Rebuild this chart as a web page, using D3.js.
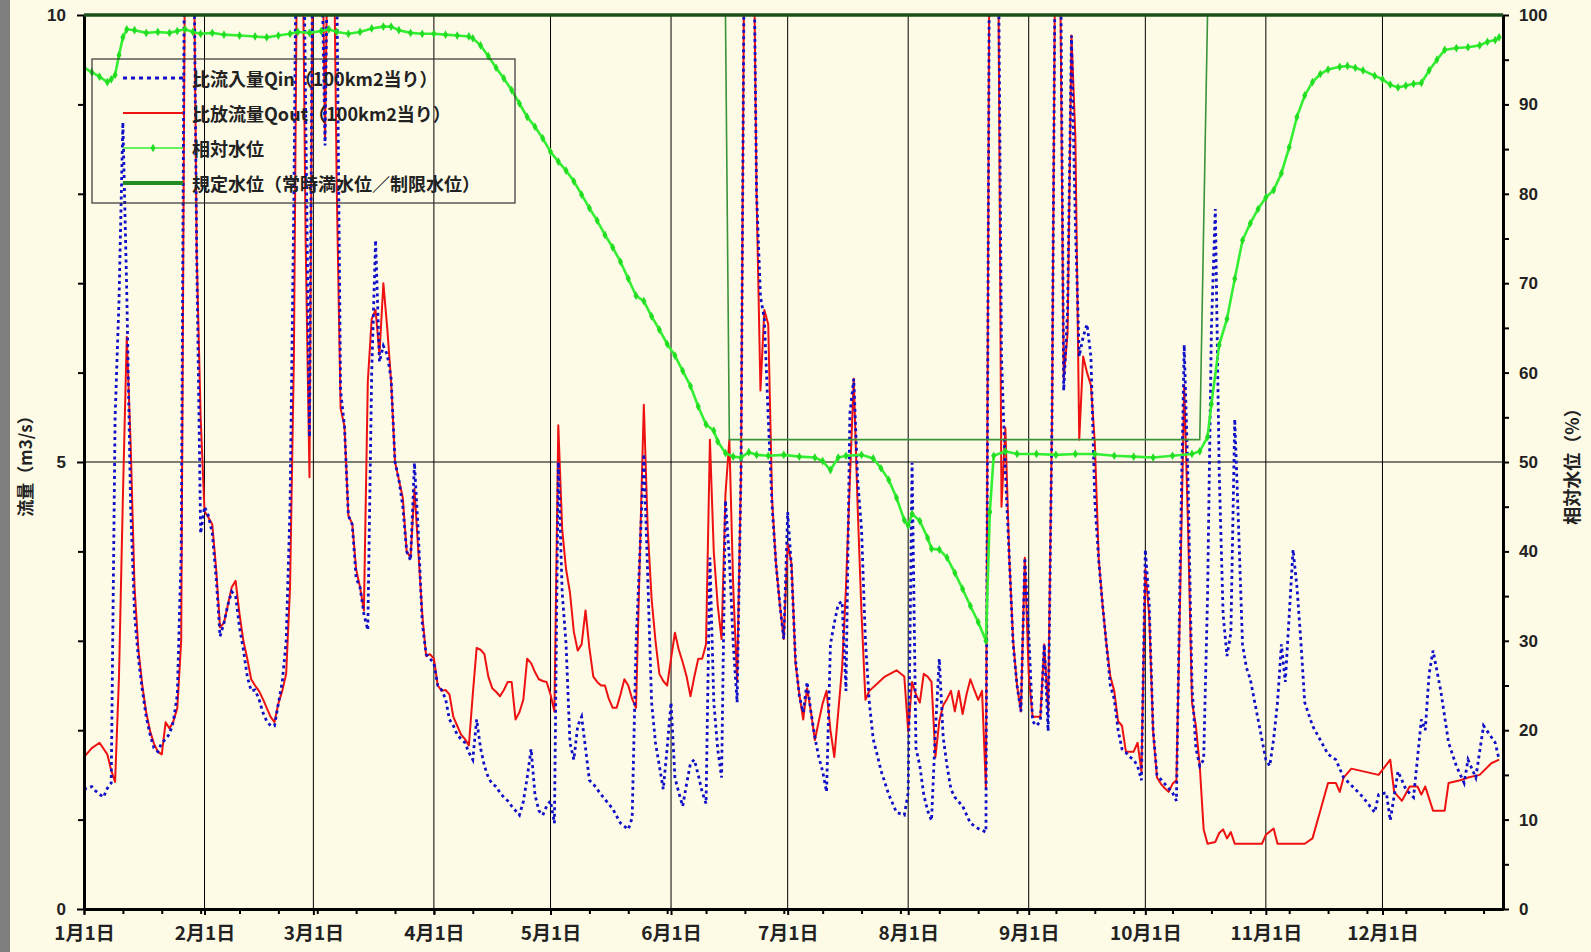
<!DOCTYPE html>
<html>
<head>
<meta charset="utf-8">
<script src="https://cdn.jsdelivr.net/npm/d3@7"></script>
<style>
  body { margin: 0; background: #fdfbe6; }
  #chart svg { display: block; }
</style>
</head>
<body>
<div id="chart"></div>
<script>
// ----------------------------------------------------------
// DATOS (dia del año desde 1月1日, valor)

const qoutData = [
  [0,1.70],[2,1.80],[4,1.86],[6,1.73],[7,1.55],[8,1.42],[9,2.6],[10,4.6],[11,6.4],[12,5.2],[13,3.6],[14,2.9],[15,2.5],[16,2.2],[17,1.99],[18,1.85],[19,1.76],[20,1.73],
  [21,2.09],[22,2.02],[23,2.1],[24,2.25],[25,3.0],[26,11],[27,14],[28,12],[29,7.3],[30,5.5],[31,4.45],[32,4.38],[33,4.3],[34,3.8],[35,3.15],[36,3.2],[37,3.4],[38,3.6],
  [39,3.67],[40,3.3],[41,3.0],[42,2.8],[43,2.57],[44,2.5],[45,2.44],[46,2.35],[47,2.25],[48,2.15],[49,2.09],[50,2.3],[51,2.44],[52,2.63],[53,3.6],[54,6.2],[55,12],[56,12],
  [57,7.5],[58,4.83],[59,12],[60,13],[61,12],[62,8.6],[63,12],[64,12],[65,8.1],[66,5.6],[67,5.4],[68,4.4],[69,4.31],[70,3.8],[71,3.6],[72,3.34],[73,5.9],[74,6.6],[75,6.7],
  [76,6.2],[77,7.0],[78,6.5],[79,5.9],[80,5.0],[81,4.8],[82,4.6],[83,4.0],[84,3.93],[85,4.7],[86,4.0],[87,3.3],[88,2.83],[89,2.85],[90,2.8],[91,2.5],[92,2.44],[93,2.45],
  [94,2.4],[95,2.15],[96,2.05],[97,1.95],[98,1.9],[99,1.83],[100,2.4],[101,2.92],[102,2.9],[103,2.85],[104,2.6],[105,2.47],[106,2.43],[107,2.38],[108,2.45],[109,2.54],
  [110,2.54],[111,2.12],[112,2.2],[113,2.34],[114,2.8],[115,2.75],[116,2.65],[117,2.57],[118,2.55],[119,2.54],[120,2.4],[121,2.21],[122,5.41],[123,4.25],[124,3.8],
  [125,3.54],[126,3.1],[127,2.89],[128,2.96],[129,3.34],[130,2.92],[131,2.6],[132,2.54],[133,2.5],[134,2.5],[135,2.35],[136,2.25],[137,2.25],[138,2.4],[139,2.57],
  [140,2.5],[141,2.35],[142,2.25],[143,4.0],[144,5.64],[145,4.25],[146,3.47],[147,3.0],[148,2.63],[149,2.55],[150,2.5],[151,2.8],[152,3.09],[153,2.9],[154,2.76],
  [155,2.6],[156,2.38],[157,2.6],[158,2.8],[159,2.8],[160,2.96],[161,5.25],[162,3.99],[163,3.4],[164,3.02],[165,4.64],[166,5.25],[167,3.6],[168,2.54],[169,4.89],
  [170,12],[171,13],[172,12],[173,8.0],[174,5.8],[175,6.7],[176,6.54],[177,4.57],[178,3.86],[179,3.4],[180,3.02],[181,4.09],[182,3.86],[183,2.76],[184,2.4],[185,2.12],
  [186,2.47],[187,2.2],[188,1.89],[189,2.1],[190,2.3],[191,2.44],[192,2.0],[193,1.70],[194,2.2],[195,2.7],[196,3.6],[197,4.8],[198,5.93],[199,4.5],[200,3.3],[201,2.34],
  [202,2.44],[204,2.52],[206,2.6],[209,2.67],[211,2.6],[212,1.99],[213,2.54],[214,2.4],[215,2.31],[216,2.63],[217,2.6],[218,2.54],[219,1.70],[220,2.1],[221,2.28],
  [222,2.35],[223,2.44],[224,2.21],[225,2.44],[226,2.18],[227,2.4],[228,2.57],[229,2.45],[230,2.34],[231,2.44],[232,1.34],[233,12],[234,13],[235,12],[236,4.5],
  [237,5.38],[238,3.93],[239,3.0],[240,2.5],[241,2.21],[242,3.93],[243,2.63],[244,2.15],[245,2.15],[246,2.15],[247,2.96],[248,2.2],[249,5.5],[250,12],[251,11],
  [252,5.93],[253,6.44],[254,9.77],[255,8.64],[256,5.25],[257,6.18],[258,6.0],[259,5.86],[260,5.22],[261,3.93],[262,3.4],[263,2.96],[264,2.6],[265,2.44],[266,2.1],
  [267,2.05],[268,1.76],[269,1.76],[270,1.76],[271,1.86],[272,1.54],[273,3.80],[274,3.28],[275,1.99],[276,1.47],[277,1.4],[278,1.35],[279,1.31],[280,1.4],[281,1.44],
  [282,3.6],[283,5.86],[284,4.25],[285,2.31],[286,2.05],[287,1.6],[288,0.89],[289,0.73],[291,0.75],[292,0.85],[293,0.89],[294,0.79],[295,0.86],[296,0.73],[303,0.73],
  [304,0.83],[306,0.9],[307,0.73],[314,0.73],[316,0.79],[318,1.1],[320,1.41],[322,1.41],[323,1.31],[324,1.47],[326,1.57],[333,1.50],[336,1.67],[337,1.31],[339,1.21],
  [341,1.37],[343,1.37],[344,1.28],[345,1.37],[347,1.10],[350,1.10],[351,1.41],[354,1.44],[356,1.47],[359,1.50],[362,1.63],[364,1.67]
]

const qinData = [
  [0,1.34],[2,1.37],[3,1.32],[5,1.25],[6,1.35],[7,1.41],[8,5.5],[9,6.8],[10,8.8],[11,6.9],[12,4.5],[13,3.3],[14,2.8],[15,2.45],[16,2.15],[17,1.95],[18,1.8],[19,1.76],
  [20,1.86],[21,1.9],[22,1.96],[23,2.1],[24,2.4],[25,4.0],[26,12],[27,13],[28,12],[29,7.3],[30,4.2],[31,4.5],[32,4.4],[33,4.2],[34,3.7],[35,3.05],[36,3.2],[37,3.4],
  [38,3.55],[39,3.5],[40,3.15],[41,2.9],[42,2.6],[43,2.44],[44,2.45],[45,2.35],[46,2.2],[47,2.1],[48,2.05],[49,2.05],[50,2.3],[51,2.54],[52,3.0],[53,4.5],[54,8.0],
  [55,13],[56,13],[57,9.0],[58,5.28],[59,12],[60,13],[61,11],[62,8.54],[63,12],[64,13],[65,10.5],[66,5.8],[67,5.4],[68,4.4],[69,4.3],[70,3.7],[71,3.6],[72,3.3],
  [73,3.12],[74,6.0],[75,7.48],[76,6.12],[77,6.3],[78,6.2],[79,5.93],[80,5.0],[81,4.8],[82,4.5],[83,4.0],[84,3.9],[85,4.99],[86,4.2],[87,3.2],[88,2.85],[89,2.8],
  [90,2.75],[91,2.5],[92,2.45],[93,2.35],[94,2.12],[95,2.05],[96,1.95],[97,1.9],[98,1.86],[99,1.75],[100,1.67],[101,2.12],[102,1.8],[103,1.6],[104,1.47],[105,1.4],
  [106,1.37],[107,1.3],[108,1.25],[109,1.21],[110,1.15],[111,1.1],[112,1.05],[113,1.2],[114,1.47],[115,1.79],[116,1.28],[117,1.1],[118,1.05],[119,1.15],[120,1.21],
  [121,0.96],[122,5.0],[123,3.54],[124,2.96],[125,1.86],[126,1.67],[127,2.05],[128,2.15],[129,1.8],[130,1.44],[131,1.4],[133,1.28],[136,1.12],[138,0.96],[140,0.89],
  [141,1.02],[142,2.96],[143,4.0],[144,5.09],[145,3.73],[146,2.31],[147,1.86],[148,1.6],[149,1.34],[150,1.8],[151,2.31],[152,1.47],[153,1.3],[154,1.15],[155,1.4],
  [156,1.63],[157,1.67],[158,1.5],[159,1.31],[160,1.18],[161,3.93],[162,2.31],[163,1.79],[164,1.47],[165,4.57],[166,3.93],[167,2.96],[168,2.31],[169,4.89],[170,12],
  [171,13],[172,12],[173,8.0],[174,6.85],[175,6.6],[176,5.5],[177,4.5],[178,3.86],[179,3.4],[180,3.02],[181,4.44],[182,3.8],[183,2.8],[184,2.38],[185,2.2],[186,2.54],
  [187,2.2],[188,1.92],[189,1.7],[190,1.54],[191,1.31],[192,2.96],[193,3.2],[194,3.41],[195,3.44],[196,2.44],[197,5.54],[198,5.93],[199,4.8],[200,4.25],[201,3.0],
  [202,2.31],[203,1.9],[204,1.73],[205,1.55],[207,1.28],[209,1.08],[211,1.05],[212,1.3],[213,4.99],[214,1.8],[215,1.6],[216,1.28],[217,1.1],[218,0.99],[219,1.99],
  [220,2.8],[221,1.92],[222,1.6],[223,1.34],[224,1.25],[226,1.15],[228,0.96],[230,0.9],[232,0.86],[233,12],[234,13],[235,12],[236,6.18],[237,4.89],[238,3.93],
  [239,2.96],[240,2.5],[241,2.21],[242,3.93],[243,3.09],[244,2.1],[245,2.05],[246,2.1],[247,2.96],[248,1.99],[249,5.5],[250,12],[251,12],[252,5.8],[253,6.7],
  [254,9.77],[255,7.67],[256,6.18],[257,6.4],[258,6.54],[259,6.18],[260,4.57],[261,3.9],[262,3.4],[263,2.96],[264,2.5],[265,2.35],[266,2.0],[267,1.79],[268,1.75],
  [269,1.7],[270,1.67],[271,1.6],[272,1.44],[273,4.02],[274,3.4],[275,2.0],[276,1.5],[278,1.4],[280,1.3],[281,1.21],[282,4.0],[283,6.31],[284,4.76],[285,2.5],
  [286,1.8],[287,1.6],[288,1.67],[289,3.5],[290,6.5],[291,7.83],[292,4.89],[293,3.3],[294,2.83],[295,3.09],[296,5.48],[297,4.25],[298,2.96],[299,2.7],[300,2.57],
  [302,2.12],[304,1.67],[305,1.6],[306,1.9],[307,2.31],[308,2.96],[309,2.54],[310,3.28],[311,4.02],[312,3.6],[313,3.0],[314,2.31],[316,2.05],[320,1.73],[322,1.67],
  [324,1.47],[327,1.34],[329,1.25],[332,1.08],[333,1.28],[335,1.3],[336,0.99],[338,1.54],[340,1.34],[342,1.25],[344,2.12],[345,2.0],[346,2.63],[347,2.89],[349,2.44],
  [351,1.86],[353,1.6],[355,1.41],[356,1.67],[358,1.47],[360,2.05],[363,1.86],[364,1.67]
]

// 相対水位 (%)
const levelData = [
  [0,94.1],[2,93.6],[4,93.1],[6,92.5],[7,92.8],[8,93.3],[9,95.5],[10,97.5],[11,98.4],[13,98.3],[16,98.0],[19,98.1],[22,98.0],[24,98.2],[26,98.4],[28,98.1],[30,97.9],
  [33,98.0],[36,97.8],[40,97.7],[44,97.6],[47,97.5],[50,97.7],[53,97.9],[55,98.1],[58,98.0],[61,98.2],[63,98.4],[65,98.1],[68,97.9],[71,98.1],[74,98.5],[77,98.7],
  [79,98.7],[81,98.3],[84,98.0],[87,97.9],[90,97.9],[93,97.8],[96,97.7],[99,97.6],[100,97.4],[102,96.6],[104,95.4],[106,94.1],[108,92.9],[110,91.6],[112,90.1],
  [114,88.6],[116,87.5],[118,86.2],[120,84.7],[122,83.6],[124,82.6],[126,81.4],[128,79.9],[130,78.4],[132,77.0],[134,75.4],[136,74.0],[138,72.4],[140,70.5],[142,68.6],
  [144,68.0],[146,66.3],[148,64.8],[150,63.2],[152,61.9],[154,60.2],[156,58.5],[158,56.2],[160,54.2],[162,53.5],[163,52.3],[165,51.0],[167,50.6],[169,50.5],[171,51.1],
  [173,50.8],[176,50.7],[180,50.8],[184,50.6],[188,50.5],[190,50.1],[192,49.1],[194,50.5],[196,50.7],[200,50.8],[203,50.4],[205,49.3],[207,48.0],[209,46.0],[211,43.5],
  [212,42.9],[213,44.2],[215,43.4],[217,41.5],[218,40.3],[220,40.2],[222,39.3],[224,37.6],[226,35.8],[228,33.9],[230,32.1],[232,30.0],[233,44.4],[234,50.7],[237,51.2],
  [240,50.9],[245,50.9],[250,50.8],[255,50.9],[260,50.9],[265,50.7],[270,50.6],[275,50.5],[280,50.7],[285,50.9],[287,51.2],[289,52.8],[290,56.5],[292,63.1],[294,66.0],
  [296,70.5],[298,74.8],[300,76.7],[302,78.3],[304,79.6],[306,80.4],[308,82.3],[310,85.2],[312,88.6],[314,91.0],[316,92.5],[318,93.4],[320,93.9],[323,94.2],[325,94.3],
  [327,94.1],[329,93.8],[332,93.2],[334,92.8],[336,92.2],[338,91.9],[340,92.1],[342,92.3],[344,92.4],[346,93.8],[348,95.0],[350,96.1],[353,96.3],[356,96.4],[359,96.6],
  [361,97.0],[363,97.2],[364,97.5]
]

// 規定水位 (%)
const ruleData = [[0,100],[165,100],[166,52.5],[287,52.5],[289,100],[364,100]]

const monthLabels = ["1月1日","2月1日","3月1日","4月1日","5月1日","6月1日","7月1日","8月1日","9月1日","10月1日","11月1日","12月1日"]
const legendLabels = ["比流入量Qin（100km2当り）","比放流量Qout（100km2当り）","相対水位","規定水位（常時満水位／制限水位）"]

// ----------------------------------------------------------
// CONSTANTES

const width = 1591
const height = 952
const margin = { left: 84, right: 88, top: 15, bottom: 43 }
const innerW = width - margin.left - margin.right
const innerH = height - margin.top - margin.bottom

const bg = "#fdfbe6"
const numFont = "'Liberation Sans', Arial, sans-serif"
const jpFont = "'Noto Sans CJK JP', sans-serif"

const start = new Date(2023, 0, 1)
const end = new Date(2024, 0, 1)
const toDate = d => d3.timeDay.offset(start, d)

// SVG

const svg = d3.select("#chart").append("svg").attr("width", width).attr("height", height)
svg.append("rect").attr("width", width).attr("height", height).attr("fill", bg)
svg.append("rect").attr("width", 10).attr("height", height).attr("fill", "#7f7f7f")

svg.append("defs").append("clipPath").attr("id", "plotClip")
  .append("rect").attr("width", innerW).attr("height", innerH)

const g = svg.append("g").attr("transform", `translate(${margin.left}, ${margin.top})`)

// ESCALAS

const x = d3.scaleTime().domain([start, end]).range([0, innerW])
const y = d3.scaleLinear().domain([0, 10]).range([innerH, 0])
const y2 = d3.scaleLinear().domain([0, 100]).range([innerH, 0])

const monthStarts = d3.timeMonth.range(start, end)
const tenDays = d3.range(0, 365, 10).map(toDate)

// REJILLA

g.append("g").selectAll("line").data(monthStarts.slice(1)).join("line")
  .attr("x1", d => x(d)).attr("x2", d => x(d))
  .attr("y1", 0).attr("y2", innerH)
  .attr("stroke", "#000").attr("stroke-width", 1)

g.append("line")
  .attr("x1", 0).attr("x2", innerW)
  .attr("y1", y(5)).attr("y2", y(5))
  .attr("stroke", "#000").attr("stroke-width", 1)

// SERIES

const lineQ = d3.line().x(d => x(toDate(d[0]))).y(d => y(d[1]))
const lineL = d3.line().x(d => x(toDate(d[0]))).y(d => y2(d[1]))

const plot = g.append("g").attr("clip-path", "url(#plotClip)")

plot.append("path").datum(qoutData)
  .attr("d", lineQ)
  .attr("fill", "none").attr("stroke", "#ee1111").attr("stroke-width", 2)
  .attr("stroke-linejoin", "round")

plot.append("path").datum(qinData)
  .attr("d", lineQ)
  .attr("fill", "none").attr("stroke", "#1010c8").attr("stroke-width", 2.8)
  .attr("stroke-dasharray", "3,3.5")

plot.append("path").datum(ruleData)
  .attr("d", lineL)
  .attr("fill", "none").attr("stroke", "#3a923a").attr("stroke-width", 1.6)

plot.append("path").datum(levelData)
  .attr("d", lineL)
  .attr("fill", "none").attr("stroke", "#33ee33").attr("stroke-width", 2.6)

const diamond = d3.symbol().type(d3.symbolDiamond).size(22)
plot.append("g").selectAll("path").data(levelData).join("path")
  .attr("d", diamond)
  .attr("transform", d => `translate(${x(toDate(d[0]))}, ${y2(d[1])})`)
  .attr("fill", "#22dd22")

// EJES

const styleAxis = (sel, size) => {
  sel.select(".domain").attr("stroke", "#000").attr("stroke-width", 3)
  sel.selectAll(".tick line").attr("stroke", "#000").attr("stroke-width", 2)
  sel.selectAll("text").attr("font-size", size).attr("fill", "#222").attr("font-weight", "bold")
}

const yMinor = g.append("g")
  .call(d3.axisLeft(y).tickValues([1, 2, 3, 4, 6, 7, 8, 9]).tickSize(6).tickSizeOuter(0).tickFormat(""))
styleAxis(yMinor, 0)

const yAxisGroup = g.append("g")
  .call(d3.axisLeft(y).tickValues([0, 5, 10]).tickSize(7).tickSizeOuter(0).tickPadding(11))
styleAxis(yAxisGroup, 17)
yAxisGroup.selectAll("text").attr("font-family", numFont)

const y2Minor = g.append("g").attr("transform", `translate(${innerW}, 0)`)
  .call(d3.axisRight(y2).tickValues(d3.range(5, 100, 10)).tickSize(6).tickSizeOuter(0).tickFormat(""))
styleAxis(y2Minor, 0)

const y2AxisGroup = g.append("g").attr("transform", `translate(${innerW}, 0)`)
  .call(d3.axisRight(y2).tickValues(d3.range(0, 101, 10)).tickSize(6).tickSizeOuter(0).tickPadding(10))
styleAxis(y2AxisGroup, 17)
y2AxisGroup.selectAll("text").attr("font-family", numFont)

const xMinor = g.append("g").attr("transform", `translate(0, ${innerH})`)
  .call(d3.axisBottom(x).tickValues(tenDays).tickSize(5).tickSizeOuter(0).tickFormat(""))
styleAxis(xMinor, 0)

const xAxisGroup = g.append("g").attr("transform", `translate(0, ${innerH})`)
  .call(d3.axisBottom(x).tickValues(monthStarts).tickSize(6).tickSizeOuter(0).tickPadding(12)
    .tickFormat((d, i) => monthLabels[i]))
styleAxis(xAxisGroup, 19)
xAxisGroup.selectAll("text").attr("font-family", jpFont)

// borde superior (100%)
g.append("line")
  .attr("x1", 0).attr("x2", innerW).attr("y1", 0).attr("y2", 0)
  .attr("stroke", "#1b4f1b").attr("stroke-width", 3.5)

// TITULOS DE EJES

svg.append("text")
  .attr("transform", `translate(24, ${margin.top + innerH / 2}) rotate(-90)`)
  .attr("text-anchor", "middle").attr("dominant-baseline", "central")
  .attr("font-family", jpFont).attr("font-weight", "bold").attr("font-size", 17).attr("fill", "#222")
  .text("流量（m3/s）")

svg.append("text")
  .attr("transform", `translate(1571, ${margin.top + innerH / 2}) rotate(-90)`)
  .attr("text-anchor", "middle").attr("dominant-baseline", "central")
  .attr("font-family", jpFont).attr("font-weight", "bold").attr("font-size", 18).attr("fill", "#222")
  .text("相対水位（%）")

// LEYENDA

const legend = svg.append("g")
legend.append("rect")
  .attr("x", 92).attr("y", 59).attr("width", 423).attr("height", 144)
  .attr("fill", "none").attr("stroke", "#333").attr("stroke-width", 1.2)

const rowY = [78, 113, 148, 183]
const sampleStyles = [
  { stroke: "#1010c8", width: 3, dash: "4,4" },
  { stroke: "#ee1111", width: 2, dash: null },
  { stroke: "#33ee33", width: 1.5, dash: null },
  { stroke: "#228b22", width: 4, dash: null }
]

legendLabels.forEach((label, i) => {
  const s = sampleStyles[i]
  legend.append("line")
    .attr("x1", 123).attr("x2", 183).attr("y1", rowY[i]).attr("y2", rowY[i])
    .attr("stroke", s.stroke).attr("stroke-width", s.width)
    .attr("stroke-dasharray", s.dash)
  if (i === 2) {
    legend.append("path").attr("d", diamond)
      .attr("transform", `translate(153, ${rowY[i]})`).attr("fill", "#22dd22")
  }
  legend.append("text")
    .attr("x", 192).attr("y", rowY[i])
    .attr("dominant-baseline", "central")
    .attr("font-family", jpFont).attr("font-weight", "bold").attr("font-size", 18).attr("fill", "#222")
    .text(label)
})
</script>
</body>
</html>
